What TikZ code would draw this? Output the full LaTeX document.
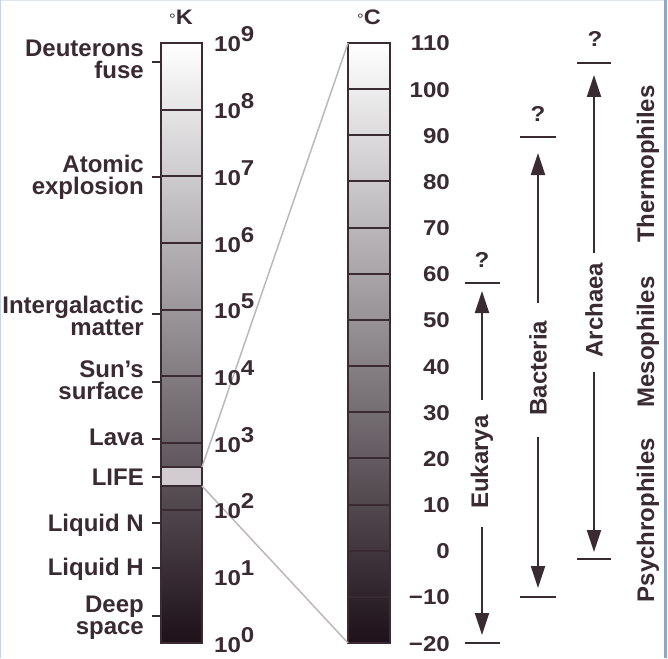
\documentclass[tikz,border=0pt]{standalone}
\usepackage{fontspec}
\setmainfont{Liberation Sans}
\newfontfamily\numfont{Liberation Sans}[FakeStretch=1.12]
\usetikzlibrary{arrows.meta}
\definecolor{ink}{HTML}{3A2A32}
\definecolor{darkend}{HTML}{1E1119}
\definecolor{midgray}{HTML}{8E898D}
\definecolor{lifec}{HTML}{D2CBD0}
\definecolor{zoomc}{HTML}{BDB8BC}
\definecolor{frameb}{HTML}{8FA6C8}
\definecolor{framel}{HTML}{C5D3E8}
\definecolor{framet}{HTML}{DFE6F0}
\begin{document}
\begin{tikzpicture}[x=1pt,y=-1pt,
 lbl/.style={font=\bfseries\fontsize{24}{24}\selectfont, text=ink, inner sep=0pt},
 num/.style={font=\numfont\bfseries\fontsize{21.5}{21.5}\selectfont, text=ink, inner sep=0pt},
 unit/.style={font=\numfont\bfseries\fontsize{21}{21}\selectfont, text=ink, inner sep=0pt},
 vlbl/.style={lbl, rotate=90},
 bar/.style={draw=ink, line width=2.2pt, outer sep=0pt, inner sep=0pt, top color=white, bottom color=darkend, middle color=midgray},
 band/.style={draw=ink, line width=2pt},
 tickl/.style={draw=ink, line width=1.8pt},
 rng/.style={draw=ink, line width=2pt},
 arr/.style={draw=ink, line width=2pt, -{Triangle[length=22pt,width=14pt]}},
 zoomline/.style={draw=zoomc, line width=1.5pt},
]
\useasboundingbox (0,0) rectangle (668,658);
\fill[white] (0,0) rectangle (668,658);
% frame
\draw[framet, line width=1.2pt] (0,0.8) -- (664,0.8);
\draw[framel, line width=1.2pt] (0.8,658) -- (0.8,0);
\draw[frameb, line width=2.6pt] (665.5,0) -- (665.5,658);

% Kelvin bar
\node[bar, minimum width=41pt, minimum height=600pt] (kbar) at (181.5,343) {};
\foreach \k in {1,...,8}
  \draw[band] (161,{43+(9-\k)*66.667}) -- (202,{43+(9-\k)*66.667});
\node[draw=ink, fill=lifec, line width=1.8pt, outer sep=0pt, inner sep=0pt, minimum width=41pt, minimum height=19pt] (life) at (181.5,476.5) {};
\draw[draw=ink, line width=2.2pt] (kbar.north west) rectangle (kbar.south east);

% Celsius bar
\node[bar, minimum width=42pt, minimum height=600pt] (cbar) at (369,343) {};
\foreach \i in {1,...,12}
  \draw[band] (348,{43+\i*46.154}) -- (390,{43+\i*46.154});
\draw[draw=ink, line width=2.2pt] (cbar.north west) rectangle (cbar.south east);

% zoom lines
\draw[zoomline] (life.north east) -- (cbar.north west);
\draw[zoomline] (life.south east) -- (cbar.south west);

% units
\node[unit] (uk) at (181,17) {{\mdseries\fontsize{15}{15}\selectfont°}K};
\node[unit] (uc) at (369,17) {{\mdseries\fontsize{15}{15}\selectfont°}C};

% powers of ten
\foreach \k in {0,...,9}
  \node[num, anchor=base west] (p\k) at (214,{43+(9-\k)*66.667+9}) {10\raisebox{10pt}{\k}};

% Celsius numbers
\foreach \v [count=\i from 0] in {110,100,90,80,70,60,50,40,30,20,10,0,−10,−20}
  \node[num, anchor=base east] (c\i) at (450,{43+\i*46.154+8}) {\v};

% ticks
\foreach \t in {62,177,314,382,439,477,523,568,616}
  \draw[tickl] (152,\t) -- (161,\t);

% left labels
\node[lbl, anchor=base east] (l1a) at (144,57) {Deuterons};
\node[lbl, anchor=base east] (l1b) at (144,79) {fuse};
\node[lbl, anchor=base east] (l2a) at (144,172) {Atomic};
\node[lbl, anchor=base east] (l2b) at (144,194) {explosion};
\node[lbl, anchor=base east] (l3a) at (144,313) {Intergalactic};
\node[lbl, anchor=base east] (l3b) at (144,335) {matter};
\node[lbl, anchor=base east] (l4a) at (144,377) {Sun’s};
\node[lbl, anchor=base east] (l4b) at (144,399) {surface};
\node[lbl, anchor=base east] (l5) at (144,445) {Lava};
\node[lbl, anchor=base east] (l6) at (144,485) {LIFE};
\node[lbl, anchor=base east] (l7) at (144,531) {Liquid N};
\node[lbl, anchor=base east] (l8) at (144,575) {Liquid H};
\node[lbl, anchor=base east] (l9a) at (144,612) {Deep};
\node[lbl, anchor=base east] (l9b) at (144,634) {space};

% Eukarya
\node[vlbl] (euk) at (482,462) {Eukarya};
\coordinate (eukA) at (482,400); \coordinate (eukAt) at (482,291);
\coordinate (eukB) at (482,527); \coordinate (eukBt) at (482,635);
\draw[arr] (eukA) -- (eukAt);
\draw[arr] (eukB) -- (eukBt);
\draw[rng] (465,283) -- (500,283);
\draw[rng] (465,643) -- (500,643);
\node[num] (eukq) at (482,260) {?};

% Bacteria
\node[vlbl] (bac) at (538,368) {Bacteria};
\coordinate (bacA) at (538,303); \coordinate (bacAt) at (538,153);
\coordinate (bacB) at (538,437); \coordinate (bacBt) at (538,588);
\draw[arr] (bacA) -- (bacAt);
\draw[arr] (bacB) -- (bacBt);
\draw[rng] (520,137) -- (556,137);
\draw[rng] (520,597) -- (556,597);
\node[num] (bacq) at (538,114) {?};

% Archaea
\node[vlbl] (arc) at (594,310) {Archaea};
\coordinate (arcA) at (594,253); \coordinate (arcAt) at (594,75);
\coordinate (arcB) at (594,372); \coordinate (arcBt) at (594,552);
\draw[arr] (arcA) -- (arcAt);
\draw[arr] (arcB) -- (arcBt);
\draw[rng] (577,63) -- (611,63);
\draw[rng] (577,559) -- (611,559);
\node[num] (arcq) at (595,39) {?};

% right labels
\node[vlbl] (thermo) at (648,164) {Thermophiles};
\node[vlbl] (meso) at (648,342) {Mesophiles};
\node[vlbl] (psych) at (648,520) {Psychrophiles};
\end{tikzpicture}
\end{document}
